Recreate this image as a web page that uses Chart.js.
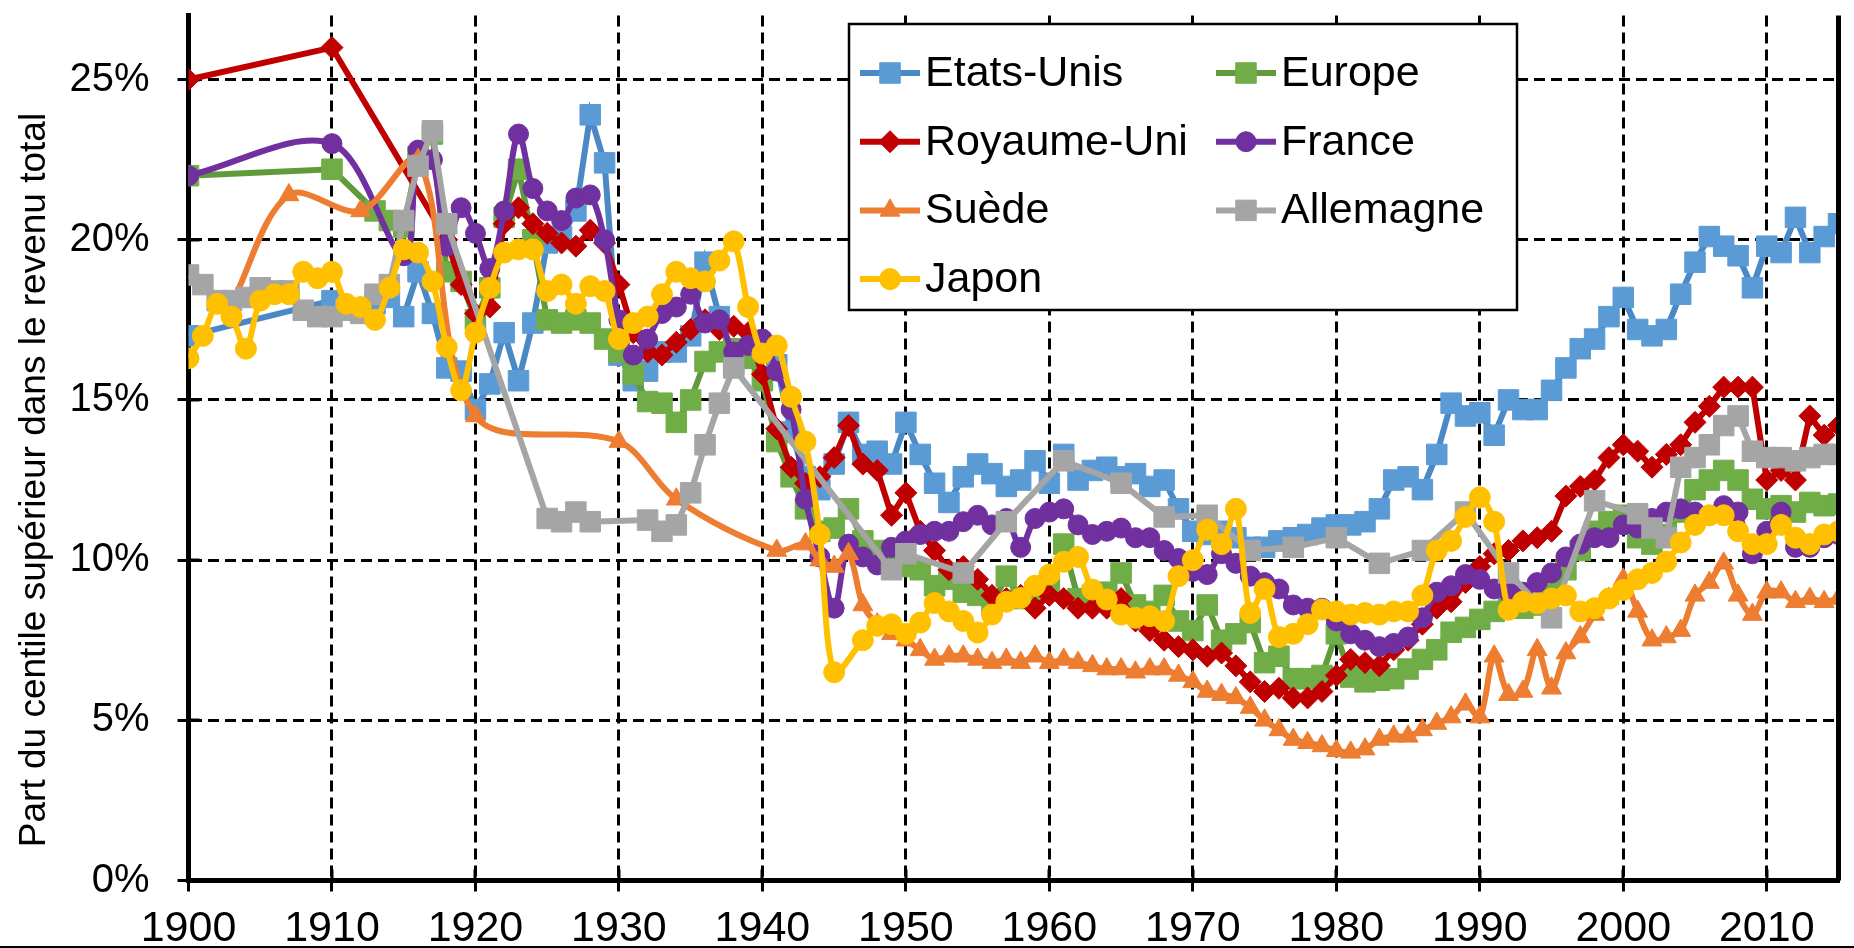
<!DOCTYPE html>
<html><head><meta charset="utf-8">
<script src="https://cdn.jsdelivr.net/npm/chart.js@4.4.0/dist/chart.umd.min.js"></script>
<style>
html,body{margin:0;padding:0;background:#fff;overflow:hidden;}
#wrap{position:relative;width:1854px;height:948px;}
canvas{display:block;}
</style></head><body>
<div id="wrap"><canvas id="c" width="1854" height="948"></canvas></div>
<script>
function range(a, b) { const r = []; for (let y = a; y <= b; y++) r.push(y); return r; }

// ---------- DATA ----------
const seriesNames = ['Etats-Unis', 'Europe', 'Royaume-Uni', 'France', 'Suède', 'Allemagne', 'Japon'];
const yTickLabels = ['0%', '5%', '10%', '15%', '20%', '25%'];
const xTickLabels = ['1900','1910','1920','1930','1940','1950','1960','1970','1980','1990','2000','2010'];
const yAxisTitle = 'Part du centile supérieur dans le revenu total';

const usYears = [1900, 1910, ...range(1913, 2015)];
const usValues = [17.0, 18.1,
  18.0, 18.2, 17.6, 19.0, 17.7, 16.0, 15.9, 14.7, 15.5, 17.1,
  15.6, 17.4, 19.9, 20.1, 20.9, 23.9, 22.4, 16.4, 15.6, 15.9,
  16.5, 16.5, 17.0, 19.3, 17.6, 16.1, 16.3, 16.6, 16.1, 14.0,
  12.6, 12.2, 13.0, 14.3, 13.3, 13.4, 13.0, 14.3, 13.3, 12.4,
  11.8, 12.6, 13.0, 12.7, 12.3, 12.5, 13.1, 12.4, 13.3, 12.5,
  12.8, 12.9, 12.6, 12.7, 12.3, 12.5, 11.6, 10.9, 10.8, 10.9,
  10.7, 10.4, 10.4, 10.6, 10.7, 10.8, 11.0, 11.1, 11.1, 11.2,
  11.6, 12.5, 12.6, 12.2, 13.3, 14.9, 14.5, 14.6, 13.9, 15.0,
  14.7, 14.7, 15.3, 16.0, 16.6, 16.9, 17.6, 18.2, 17.2, 17.0,
  17.2, 18.3, 19.3, 20.1, 19.8, 19.5, 18.5, 19.8, 19.6, 20.7,
  19.6, 20.1, 20.5];

const europeYears = [1900, 1910, ...range(1913, 2015)];
const europeValues = [22.0, 22.2,
  20.9, 20.6, 20.4, 22.6, 23.3, 19.0, 18.7, 17.5, 18.5, 20.7,
  22.2, 20.0, 17.5, 17.4, 17.5, 17.4, 16.9, 16.5, 15.8, 14.95,
  14.9, 14.3, 15.0, 16.2, 16.5, 16.6, 16.3, 15.6, 13.7, 12.6,
  11.6, 10.9, 11.0, 11.6, 10.6, 10.3, 10.2, 9.8, 9.7, 9.2,
  9.4, 9.0, 8.9, 8.6, 9.5, 8.8, 9.0, 9.2, 10.5, 8.8,
  8.9, 9.0, 9.6, 8.6, 8.4, 8.9, 8.1, 7.8, 8.6, 7.5,
  7.7, 8.05, 6.8, 7.0, 6.3, 6.3, 6.4, 7.7, 6.35, 6.2,
  6.25, 6.3, 6.6, 6.9, 7.2, 7.75, 7.9, 8.15, 8.4, 8.6,
  8.5, 8.6, 9.1, 9.7, 10.3, 10.9, 11.2, 11.4, 10.7, 10.5,
  10.8, 11.5, 12.2, 12.5, 12.8, 12.5, 11.9, 11.6, 11.7, 11.5,
  11.8, 11.7, 11.75];

const ukYears = [1900, 1910, ...range(1918, 2015)];
const ukValues = [25.0, 26.0,
  20.0, 18.6, 17.7, 17.9, 20.5, 21.0, 20.5, 20.2, 19.9, 19.8,
  20.3, 19.9, 18.6, 17.1, 16.5, 16.4, 16.8, 17.2, 17.5, 17.2,
  17.3, 17.1, 15.8, 14.1, 12.9, 12.4, 12.6, 13.2, 14.2, 13.0,
  12.8, 11.4, 12.1, 10.9, 10.3, 9.7, 9.8, 9.4, 8.9, 8.8,
  8.9, 8.5, 8.9, 8.8, 8.5, 8.5, 8.5, 8.8, 8.1, 7.8,
  7.5, 7.3, 7.2, 7.0, 7.1, 6.7, 6.2, 5.9, 6.0, 5.7,
  5.7, 5.9, 6.4, 6.9, 6.8, 6.7, 7.2, 7.5, 8.0, 8.5,
  8.7, 9.3, 9.8, 10.2, 10.3, 10.6, 10.7, 10.9, 12.0, 12.3,
  12.5, 13.2, 13.6, 13.4, 12.9, 13.3, 13.6, 14.3, 14.8, 15.4,
  15.4, 15.4, 12.5, 12.8, 12.5, 14.5, 13.9, 14.2];

const franceYears = [1900, 1910, ...range(1915, 2015)];
const franceValues = [22.0, 23.0,
  19.5, 22.8, 22.5, 19.8, 21.0, 20.2, 19.1, 20.9, 23.3, 21.6,
  20.9, 20.6, 21.3, 21.4, 20.0, 17.5, 16.4, 16.9, 17.7, 17.9,
  18.3, 17.4, 17.5, 16.5, 16.7, 16.9, 15.9, 14.7, 11.9, 10.1,
  8.5, 10.5, 10.1, 9.85, 10.4, 10.6, 10.8, 10.9, 10.9, 11.2,
  11.4, 11.1, 11.3, 10.4, 11.3, 11.5, 11.6, 11.1, 10.8, 10.9,
  11.0, 10.7, 10.7, 10.3, 10.05, 9.65, 9.55, 10.2, 9.9, 9.5,
  9.3, 9.1, 8.6, 8.5, 8.5, 8.1, 7.7, 7.5, 7.3, 7.4,
  7.6, 8.2, 9.0, 9.2, 9.55, 9.4, 9.1, 9.0, 9.0, 9.3,
  9.6, 10.1, 10.5, 10.7, 10.7, 11.1, 11.0, 11.3, 11.5, 11.6,
  11.5, 11.4, 11.7, 11.5, 10.2, 10.9, 11.5, 10.4, 10.4, 10.7,
  10.8];

const swedenYears = [1903, 1907, 1912, 1916, 1920, 1930, 1934, 1941, ...range(1943, 2015)];
const swedenValues = [18.0, 21.4, 20.9, 22.5, 14.5, 13.7, 11.9, 10.3,
  10.5, 10.0, 9.8, 10.2, 8.6, 8.0, 7.7, 7.5, 7.2, 6.9,
  7.0, 7.0, 6.9, 6.8, 6.9, 6.8, 7.0, 6.8, 6.9, 6.8,
  6.7, 6.6, 6.6, 6.5, 6.6, 6.6, 6.4, 6.2, 5.9, 5.8,
  5.7, 5.4, 5.0, 4.7, 4.4, 4.3, 4.2, 4.05, 4.0, 4.1,
  4.4, 4.5, 4.5, 4.7, 4.9, 5.1, 5.5, 5.1, 7.0, 5.8,
  5.9, 7.2, 6.0, 7.1, 7.6, 8.3, 8.8, 9.4, 8.4, 7.5,
  7.6, 7.8, 8.9, 9.3, 9.9, 8.9, 8.3, 9.0, 9.0, 8.7,
  8.8, 8.7, 8.8];

const germanyYears = [...range(1900, 1918),
  1925, 1926, 1927, 1928, 1932, 1933, 1934, 1935, 1936, 1937, 1938,
  1949, 1950, 1954, 1957, 1961, 1965, 1968, 1971, 1974, 1977, 1980, 1983, 1986, 1989, 1992, 1995, 1998,
  ...range(2001, 2015)];
const germanyValues = [18.9, 18.6, 18.1, 18.1, 18.2, 18.5, 18.4, 18.4, 17.8, 17.6,
  17.6, 17.8, 17.7, 18.3, 18.6, 20.6, 22.3, 23.4, 20.5,
  11.3, 11.2, 11.5, 11.2, 11.25, 10.9, 11.1, 12.1, 13.6, 14.9, 16.0,
  9.7, 10.2, 9.6, 11.2, 13.1, 12.4, 11.35, 11.4, 10.3, 10.4, 10.7, 9.9, 10.3, 11.5, 9.6, 8.2, 11.85,
  11.45, 11.0, 10.7, 12.9, 13.2, 13.6, 14.2, 14.5, 13.4, 13.2, 13.2, 13.1, 13.2, 13.3, 13.3];

const japanYears = [...range(1900, 1945), ...range(1947, 2015)];
const japanValues = [16.3, 17.0, 18.0, 17.6, 16.6, 18.1, 18.3, 18.3, 19.0, 18.8,
  19.0, 18.0, 17.9, 17.5, 18.5, 19.7, 19.6, 18.7, 16.65, 15.3,
  17.1, 18.5, 19.6, 19.7, 19.7, 18.4, 18.6, 18.0, 18.55, 18.4,
  16.9, 17.4, 17.6, 18.3, 19.0, 18.8, 18.7, 19.35, 19.95, 17.9,
  16.45, 16.7, 15.1, 13.7, 10.8, 6.5,
  7.5, 7.95, 8.0, 7.7, 8.05, 8.66, 8.4, 8.1, 7.74, 8.3,
  8.7, 8.82, 9.2, 9.55, 9.95, 10.1, 9.08, 8.77, 8.3, 8.2,
  8.25, 8.1, 9.5, 10.0, 10.95, 10.5, 11.6, 8.35, 9.1, 7.6,
  7.7, 8.0, 8.46, 8.4, 8.3, 8.35, 8.3, 8.4, 8.4, 8.9,
  10.3, 10.6, 11.35, 11.96, 11.2, 8.45, 8.7, 8.65, 8.8, 8.9,
  8.4, 8.5, 8.8, 9.07, 9.4, 9.6, 9.95, 10.55, 11.1, 11.4,
  11.4, 10.9, 10.5, 10.5, 11.1, 10.7, 10.5, 10.8, 10.9];

// ---------- STYLES ----------
const FONT = '"Liberation Sans", Arial, Helvetica, sans-serif';
const styles = [
  {marker: '#5B9BD5', line: '#4A88C6', shape: 'rect', r: 14.5, tension: 0},
  {marker: '#70AD47', line: '#5F9B3B', shape: 'rect', r: 14.5, tension: 0},
  {marker: '#C00000', line: '#C00000', shape: 'rectRot', r: 11, tension: 0},
  {marker: '#7030A0', line: '#7030A0', shape: 'circle', r: 10, tension: 0.33},
  {marker: '#ED7D31', line: '#ED7D31', shape: 'triangle', r: 11.5, tension: 0.33},
  {marker: '#A5A5A5', line: '#A5A5A5', shape: 'rect', r: 14.5, tension: 0},
  {marker: '#FFC000', line: '#FFC000', shape: 'circle', r: 10.5, tension: 0.3}
];
const seriesData = [
  [usYears, usValues], [europeYears, europeValues], [ukYears, ukValues],
  [franceYears, franceValues], [swedenYears, swedenValues],
  [germanyYears, germanyValues], [japanYears, japanValues]
];

function toPoints(years, values) {
  const n = Math.min(years.length, values.length);
  if (years.length !== values.length) console.warn('length mismatch', years.length, values.length);
  const pts = [];
  for (let i = 0; i < n; i++) pts.push({x: years[i], y: values[i]});
  return pts;
}

const datasets = seriesNames.map((name, i) => ({
  label: name,
  data: toPoints(seriesData[i][0], seriesData[i][1]),
  borderColor: styles[i].line,
  backgroundColor: styles[i].marker,
  borderWidth: 6,
  pointStyle: styles[i].shape,
  pointRadius: styles[i].r,
  pointBackgroundColor: styles[i].marker,
  pointBorderColor: styles[i].marker,
  pointBorderWidth: 1,
  tension: styles[i].tension,
  fill: false,
  order: seriesNames.length - 1 - i
}));

// ---------- PLUGINS ----------
function drawMarker(ctx, shape, x, y, r, color) {
  ctx.save();
  ctx.fillStyle = color; ctx.strokeStyle = color; ctx.lineWidth = 1;
  ctx.beginPath();
  if (shape === 'rect') {
    const s = Math.SQRT1_2 * r; ctx.rect(x - s, y - s, 2 * s, 2 * s);
  } else if (shape === 'rectRot') {
    ctx.moveTo(x - r, y); ctx.lineTo(x, y - r); ctx.lineTo(x + r, y); ctx.lineTo(x, y + r); ctx.closePath();
  } else if (shape === 'triangle') {
    let a = 0;
    ctx.moveTo(x + Math.sin(a) * r, y - Math.cos(a) * r);
    a += 2 * Math.PI / 3; ctx.lineTo(x + Math.sin(a) * r, y - Math.cos(a) * r);
    a += 2 * Math.PI / 3; ctx.lineTo(x + Math.sin(a) * r, y - Math.cos(a) * r);
    ctx.closePath();
  } else {
    ctx.arc(x, y, r, 0, Math.PI * 2);
  }
  ctx.fill(); ctx.stroke();
  ctx.restore();
}

const crossTicks = {
  id: 'crossTicks',
  beforeDatasetsDraw(chart) {
    const {ctx, chartArea, scales} = chart;
    ctx.save(); ctx.strokeStyle = '#000'; ctx.lineWidth = 3;
    scales.y.ticks.forEach(t => {
      const py = Math.round(scales.y.getPixelForValue(t.value));
      ctx.beginPath(); ctx.moveTo(chartArea.left, py); ctx.lineTo(chartArea.left + 11, py); ctx.stroke();
    });
    scales.x.ticks.forEach(t => {
      const px = Math.round(scales.x.getPixelForValue(t.value));
      ctx.beginPath(); ctx.moveTo(px, chartArea.bottom); ctx.lineTo(px, chartArea.bottom - 11); ctx.stroke();
    });
    ctx.restore();
  },
  afterDatasetsDraw(chart) {
    const {ctx, chartArea} = chart;
    ctx.save(); ctx.strokeStyle = '#000'; ctx.lineWidth = 5;
    ctx.beginPath(); ctx.moveTo(chartArea.right, chartArea.top); ctx.lineTo(chartArea.right, chartArea.bottom); ctx.stroke();
    ctx.restore();
  }
};

const axisTitle = {
  id: 'axisTitle',
  afterDraw(chart) {
    const ctx = chart.ctx;
    ctx.save();
    ctx.translate(35, 480);
    ctx.rotate(-Math.PI / 2);
    ctx.font = '37px ' + FONT;
    ctx.fillStyle = '#000';
    ctx.textAlign = 'center';
    ctx.textBaseline = 'middle';
    ctx.fillText(yAxisTitle, 0, 0);
    ctx.restore();
    ctx.save(); ctx.fillStyle = '#000'; ctx.fillRect(0, 946, 1854, 2); ctx.restore();
  }
};

const boxLegend = {
  id: 'boxLegend',
  afterDraw(chart) {
    const ctx = chart.ctx;
    const L = {x: 849, y: 24, w: 668, h: 286};
    ctx.save();
    ctx.fillStyle = '#fff'; ctx.fillRect(L.x, L.y, L.w, L.h);
    ctx.strokeStyle = '#000'; ctx.lineWidth = 2.5; ctx.strokeRect(L.x, L.y, L.w, L.h);
    chart.data.datasets.forEach((ds, i) => {
      const col = i % 2, row = Math.floor(i / 2);
      const cx = col === 0 ? 890 : 1246;
      const cy = 73 + row * 68.7;
      ctx.strokeStyle = ds.borderColor; ctx.lineWidth = ds.borderWidth;
      ctx.beginPath(); ctx.moveTo(cx - 30, cy); ctx.lineTo(cx + 30, cy); ctx.stroke();
      drawMarker(ctx, ds.pointStyle, cx, cy, ds.pointRadius, ds.pointBackgroundColor);
      ctx.fillStyle = '#000';
      ctx.font = '43px ' + FONT;
      ctx.textAlign = 'left';
      ctx.textBaseline = 'middle';
      ctx.fillText(ds.label, cx + 35, cy + 1);
    });
    ctx.restore();
  }
};

// ---------- CHART ----------
Chart.defaults.font.family = FONT;
Chart.defaults.color = '#000';

const gridOpts = {color: '#000', lineWidth: 3, tickLength: 11, tickColor: '#000', tickWidth: 3, drawTicks: true};
const borderOpts = {display: true, color: '#000', width: 5, dash: [11, 6]};

new Chart(document.getElementById('c'), {
  type: 'line',
  data: {datasets},
  options: {
    responsive: false,
    animation: false,
    devicePixelRatio: 1,
    layout: {padding: {top: 6, right: 2, left: 0, bottom: 0}},
    plugins: {legend: {display: false}, tooltip: {enabled: false}},
    elements: {line: {capBezierPoints: true}},
    scales: {
      x: {
        type: 'linear', min: 1900, max: 2015,
        ticks: {stepSize: 10, includeBounds: false, autoSkip: false, maxRotation: 0, padding: 12,
                font: {size: 43}, color: '#000',
                callback: (v) => { const i = xTickLabels.indexOf(String(v)); return i >= 0 ? xTickLabels[i] : ''; }},
        grid: gridOpts, border: borderOpts,
        afterFit: (s) => { s.height = 67.5; s.paddingLeft = 0; s.paddingRight = 0; }
      },
      y: {
        type: 'linear', min: 0, max: 27,
        ticks: {stepSize: 5, includeBounds: false, padding: 28, font: {size: 40}, color: '#000',
                callback: (v) => yTickLabels[v / 5] !== undefined ? yTickLabels[v / 5] : ''},
        grid: gridOpts, border: borderOpts,
        afterFit: (s) => { s.width = 188.5; s.paddingTop = 0; s.paddingBottom = 0; }
      }
    }
  },
  plugins: [crossTicks, axisTitle, boxLegend]
});
</script>
</body></html>
